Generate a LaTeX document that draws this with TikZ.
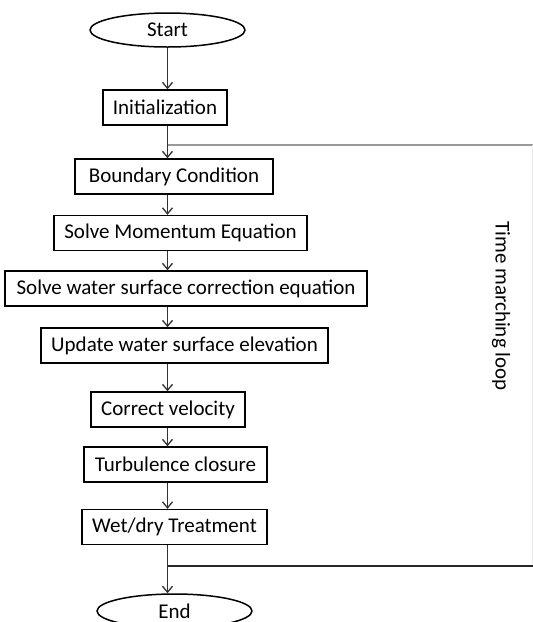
\documentclass[tikz,border=0pt]{standalone}
\usepackage{fontspec}
\setmainfont{Carlito}
\usetikzlibrary{arrows.meta, shapes.geometric}

\begin{document}
\begin{tikzpicture}[x=1pt, y=-1pt, font=\fontsize{21}{25}\selectfont,
  stepbox/.style={rectangle, draw=black, line width=1.4pt, minimum height=35pt, inner xsep=6pt, inner ysep=0pt},
  termnode/.style={ellipse, draw=black, line width=1.5pt, minimum width=155pt, minimum height=34pt, inner sep=0pt},
  flow/.style={draw=black!80, line width=1.3pt, -{Straight Barb[length=6pt, width=10pt]}},
  loopline/.style={line width=1.2pt}]
\useasboundingbox (0,0) rectangle (533,622);
\node[termnode] (start) at (167.5, 30) {Start};
\node[stepbox, minimum width=124pt] (init) at (165, 107.5) {Initialization};
\node[stepbox, minimum width=198pt] (bc) at (174, 176.5) {Boundary Condition};
\node[stepbox, minimum width=253pt] (mom) at (180.5, 233) {Solve Momentum Equation};
\node[stepbox, minimum width=362pt] (wsc) at (186, 288.5) {Solve water surface correction equation};
\node[stepbox, minimum width=287pt] (upd) at (184.5, 345.5) {Update water surface elevation};
\node[stepbox, minimum width=154pt] (cv) at (168, 409.5) {Correct velocity};
\node[stepbox, minimum width=183pt] (turb) at (175.5, 464.5) {Turbulence closure};
\node[stepbox, minimum width=185pt] (wd) at (174.5, 527) {Wet/dry Treatment};
\node[termnode] (end) at (174.5, 611) {End};
\node[rotate=-90] (looplabel) at (501, 306) {Time marching loop};
\coordinate (ltop) at (167.5, 145);
\coordinate (rtop) at (532.5, 145);
\coordinate (lbot) at (167.5, 566);
\coordinate (rbot) at (532.5, 566);
\draw[flow] (start.south) -- (init.north -| start);
\draw[flow] (init.south -| start) -- (bc.north -| start);
\draw[flow] (bc.south -| start) -- (mom.north -| start);
\draw[flow] (mom.south -| start) -- (wsc.north -| start);
\draw[flow] (wsc.south -| start) -- (upd.north -| start);
\draw[flow] (upd.south -| start) -- (cv.north -| start);
\draw[flow] (cv.south -| start) -- (turb.north -| start);
\draw[flow] (turb.south -| start) -- (wd.north -| start);
\draw[flow] (wd.south -| start) -- (end.north -| start);
\draw[loopline, black!40] (ltop) -- (rtop);
\draw[line width=0.5pt, black!8] (rtop) -- (rbot);
\draw[loopline, black!85] (lbot) -- (rbot);
\end{tikzpicture}
\end{document}
